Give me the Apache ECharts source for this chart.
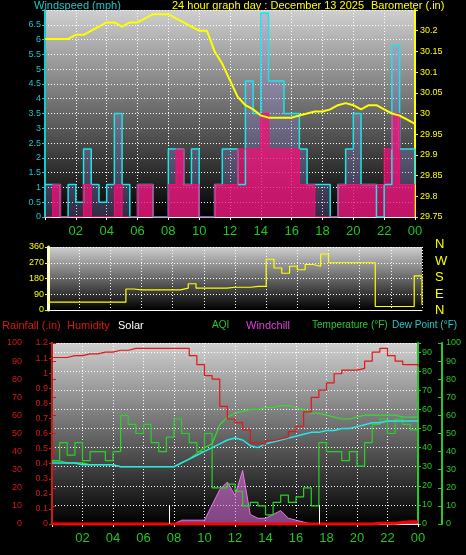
<!DOCTYPE html>
<html>
<head>
<meta charset="utf-8">
<script src="https://cdn.jsdelivr.net/npm/echarts@6/dist/echarts.min.js"></script>
<style>
html, body {margin: 0; padding: 0; background: #000;}
#chart {width: 466px; height: 555px;}
</style>
</head>
<body>
<div id="chart"></div>
<script>
// half hour steps, 0..24
const hours = [];
for (let i = 0; i <= 48; i++) hours.push(i / 2);

const barometer = [30.18, 30.18, 30.18, 30.18, 30.19, 30.19, 30.2, 30.21, 30.22, 30.22, 30.21, 30.22, 30.22, 30.23, 30.24, 30.24, 30.24, 30.23, 30.22, 30.21, 30.2, 30.2, 30.15, 30.12, 30.08, 30.04, 30.02, 30.01, 29.995, 29.99, 29.99, 29.99, 29.99, 29.995, 30.0, 30.005, 30.005, 30.01, 30.02, 30.025, 30.02, 30.01, 30.02, 30.02, 30.01, 30.0, 29.995, 29.985, 29.975];
const windGust = [1.1, 1.1, 0, 1.1, 0.5, 2.3, 1.1, 0.5, 1.1, 3.5, 1.1, 0, 1.1, 1.1, 0, 0, 2.3, 2.3, 1.1, 2.3, 0, 0, 1.1, 2.3, 2.3, 1.1, 4.6, 3.5, 6.9, 4.6, 4.6, 3.5, 3.5, 2.3, 1.1, 1.1, 1.1, 0, 1.1, 2.3, 3.5, 1.1, 1.1, 0, 1.1, 5.8, 2.3, 2.3, 1.1];
const windAvg = [0, 1.1, 0, 0, 0, 1.1, 0, 0, 0, 1.1, 0, 0, 1.1, 1.1, 0, 0, 1.1, 2.3, 1.1, 1.1, 0, 0, 1.1, 1.1, 1.1, 2.3, 2.3, 2.3, 3.5, 2.3, 2.3, 2.3, 2.3, 1.1, 1.1, 0, 0, 0, 1.1, 1.1, 1.1, 1.1, 1.1, 1.1, 2.3, 3.5, 1.1, 1.1, 1.1];
const windDir = [45, 45, 45, 45, 45, 45, 45, 45, 45, 45, 120, 115, 115, 115, 115, 115, 115, 125, 150, 125, 125, 125, 125, 130, 130, 130, 135, 135, 290, 240, 210, 250, 230, 260, 250, 320, 270, 270, 270, 270, 270, 270, 20, 20, 20, 20, 20, 195, 30];
const humidity = [92, 92, 93, 93, 94, 94, 95, 95, 96, 96, 97, 97, 97, 97, 97, 97, 97, 97, 93, 88, 82, 80, 65, 58, 56, 52, 45, 44, 46, 47, 48, 51, 54, 62, 70, 74, 78, 83, 85, 85, 86, 90, 95, 97, 93, 90, 88, 88, 87];
const temperature = [33, 33, 32, 32, 32, 31, 31, 31, 31, 30, 30, 30, 30, 30, 30, 30, 30, 32, 34, 37, 40, 42, 52, 56, 58, 59, 60, 60, 61, 61, 62, 62, 61, 60, 58, 58, 57, 56, 55, 55, 56, 57, 57, 57, 57, 57, 56, 56, 56];
const dewPoint = [32, 32, 32, 32, 31, 31, 31, 31, 31, 30, 30, 30, 30, 30, 30, 30, 30, 32, 34, 36, 38, 40, 42, 44, 45, 44, 41, 40, 42, 43, 44, 45, 46, 47, 48, 48, 49, 49, 50, 50, 51, 52, 53, 53, 54, 54, 54, 54, 54];
const aqi = [35, 45, 38, 45, 35, 40, 40, 35, 40, 60, 55, 50, 55, 45, 40, 48, 58, 50, 45, 40, 50, 20, 20, 22, 18, 10, 12, 10, 5, 12, 16, 12, 15, 20, 10, 45, 40, 40, 35, 40, 32, 45, 55, 58, 50, 58, 55, 52, 54];
const solar = [0, 0, 0, 0, 0, 0, 0, 0, 0, 0, 0, 0, 0, 0, 0, 0, 0, 2, 2, 2, 2, 10, 18, 22, 15, 28, 5, 3, 3, 5, 7, 3, 2, 1, 0, 0, 0, 0, 0, 0, 0, 0, 0, 0, 0, 0, 0, 0, 0];
const rainfall = [0, 0, 0, 0, 0, 0, 0, 0, 0, 0, 0, 0, 0, 0, 0, 0, 0, 0, 0, 0, 0, 0, 0, 0, 0, 0, 0, 0, 0, 0, 0, 0, 0, 0, 0, 0, 0, 0, 0, 0, 0, 0, 0.005, 0.005, 0.005, 0.01, 0.015, 0.015, 0.015];
const sunRise = 7.7;
const sunSet = 17.5;
const compass = ['N', 'W', 'S', 'E', 'N'];

const pairs = arr => hours.map((h, i) => [h, arr[i]]);

const bg = new echarts.graphic.LinearGradient(0, 0, 0, 1, [
    {offset: 0, color: '#cfcfcf'},
    {offset: 1, color: '#000000'}
]);
const split = {show: true, lineStyle: {color: '#fff', type: [1, 2], width: 1}};
const hourLabel = v => v === 0 ? '' : String(v % 24).padStart(2, '0');

const xBase = (idx, showLabel) => ({
    type: 'value', gridIndex: idx, min: 0, max: 24, interval: 2,
    axisLine: {show: true, lineStyle: {color: '#fff'}},
    axisTick: {show: showLabel, length: 3, lineStyle: {color: '#fff'}},
    axisLabel: {show: showLabel, color: '#1ec81e', fontSize: 13, formatter: hourLabel, margin: 8},
    splitLine: split
});

const yAxis = (idx, o) => Object.assign({
    type: 'value', gridIndex: idx,
    axisLine: {show: true, lineStyle: {color: o.color, width: 2}},
    axisTick: {show: true, length: 3, lineStyle: {color: o.color}},
    axisLabel: {color: o.color, fontSize: 9, margin: 4},
    splitLine: {show: false}
}, o.extra);

const chart = echarts.init(document.getElementById('chart'));
chart.setOption({
    backgroundColor: '#000',
    animation: false,
    textStyle: {fontFamily: 'Liberation Sans'},
    graphic: [
        {type: 'text', left: 34, top: 0, style: {text: 'Windspeed (mph)', fill: '#19c8c8', fontSize: 11}},
        {type: 'text', left: 172, top: 0, style: {text: '24 hour graph day : December 13 2025', fill: '#ffff00', fontSize: 11}},
        {type: 'text', left: 371, top: 0, style: {text: 'Barometer (.in)', fill: '#ffff00', fontSize: 11}},
        {type: 'text', left: 2, top: 320, style: {text: 'Rainfall (.in)', fill: '#d21919', fontSize: 11}},
        {type: 'text', left: 67, top: 320, style: {text: 'Humidity', fill: '#d21919', fontSize: 11}},
        {type: 'text', left: 118, top: 320, style: {text: 'Solar', fill: '#fff', fontSize: 11}},
        {type: 'text', left: 212, top: 320, style: {text: 'AQI', fill: '#28c828', fontSize: 10}},
        {type: 'text', left: 246, top: 320, style: {text: 'Windchill', fill: '#e040e0', fontSize: 11}},
        {type: 'text', left: 312, top: 320, style: {text: 'Temperature (°F)', fill: '#28c828', fontSize: 10}},
        {type: 'text', left: 392, top: 320, style: {text: 'Dew Point (°F)', fill: '#28c8c8', fontSize: 10}},
        ...compass.map((c, i) => ({type: 'text', left: 435, top: 238 + i * 16.5, style: {text: c, fill: '#ffff00', fontSize: 13}}))
    ],
    grid: [
        {left: 45, right: 51, top: 10, bottom: 338, show: true, backgroundColor: bg, borderWidth: 0},
        {left: 48, right: 44, top: 247, bottom: 245, show: true, backgroundColor: bg, borderWidth: 0},
        {left: 52, right: 48, top: 343, bottom: 31, show: true, backgroundColor: bg, borderWidth: 0}
    ],
    xAxis: [xBase(0, true), xBase(1, false), xBase(2, true)],
    yAxis: [
        yAxis(0, {color: '#19c8c8', extra: {position: 'left', min: 0, max: 7, interval: 0.5, splitLine: split,
            axisLabel: {color: '#19c8c8', fontSize: 9, margin: 4, formatter: v => v === 7 ? '' : v}}}),
        yAxis(0, {color: '#ffff00', extra: {position: 'right', min: 29.75, max: 30.25, interval: 0.05,
            axisLabel: {color: '#ffff00', fontSize: 9, margin: 5, formatter: v => v >= 30.25 ? '' : +v.toFixed(2)}}}),
        yAxis(1, {color: '#ffff00', extra: {position: 'left', min: 0, max: 360, interval: 90, splitLine: split,
            axisLine: {show: true, lineStyle: {color: '#ffffc8', width: 3}}}}),
        yAxis(2, {color: '#d21919', extra: {position: 'left', min: 0, max: 100, interval: 10, offset: 26,
            axisTick: {show: true, length: 4, inside: true, lineStyle: {color: '#d21919'}}}}),
        yAxis(2, {color: '#d21919', extra: {position: 'left', min: 0, max: 1.2, interval: 0.1,
            axisLabel: {color: '#d21919', fontSize: 9, margin: 4, formatter: v => +v.toFixed(1)}}}),
        yAxis(2, {color: '#28c828', extra: {position: 'right', min: 0, max: 94.8, interval: 10, splitLine: split,
            axisLabel: {color: '#28c828', fontSize: 9, margin: 4, formatter: v => v > 94 ? '' : v}}}),
        yAxis(2, {color: '#28c828', extra: {position: 'right', min: 0, max: 100, interval: 10, offset: 24,
            axisTick: {show: true, length: 4, inside: true, lineStyle: {color: '#28c828'}}}})
    ],
    series: [
        {type: 'line', xAxisIndex: 0, yAxisIndex: 0, data: pairs(windGust), step: 'end', symbol: 'none',
            lineStyle: {color: '#19e6e6', width: 1.5}, areaStyle: {color: 'rgba(150,140,220,0.45)'}},
        {type: 'line', xAxisIndex: 0, yAxisIndex: 0, data: pairs(windAvg), step: 'end', symbol: 'none',
            lineStyle: {color: '#ff0a78', width: 1}, areaStyle: {color: '#ff0a78'}},
        {type: 'line', xAxisIndex: 0, yAxisIndex: 1, data: pairs(barometer), symbol: 'none',
            lineStyle: {color: '#ffff00', width: 2}},
        {type: 'line', xAxisIndex: 1, yAxisIndex: 2, data: pairs(windDir), step: 'end', symbol: 'none',
            lineStyle: {color: '#ffff00', width: 1.2}},
        {type: 'line', xAxisIndex: 2, yAxisIndex: 5, data: pairs(solar), symbol: 'none',
            lineStyle: {color: '#e678e6', width: 1}, areaStyle: {color: 'rgba(230,120,230,0.8)'},
            markLine: {symbol: 'none', silent: true, lineStyle: {color: '#fff', type: 'solid', width: 1},
                label: {show: true, position: 'end', color: '#ddd', fontSize: 9, formatter: p => p.value === sunSet ? 'Sun Set' : ''},
                data: [[{coord: [sunRise, 0]}, {coord: [sunRise, 10]}], [{coord: [sunSet, 0]}, {coord: [sunSet, 10]}]]}},
        {type: 'line', xAxisIndex: 2, yAxisIndex: 6, data: pairs(aqi), step: 'end', symbol: 'none',
            lineStyle: {color: '#28d228', width: 1.2}},
        {type: 'line', xAxisIndex: 2, yAxisIndex: 5, data: pairs(temperature), symbol: 'none',
            lineStyle: {color: '#32dc32', width: 1.2}},
        {type: 'line', xAxisIndex: 2, yAxisIndex: 5, data: pairs(dewPoint), symbol: 'none',
            lineStyle: {color: '#28e6e6', width: 1.5}},
        {type: 'line', xAxisIndex: 2, yAxisIndex: 3, data: pairs(humidity), step: 'end', symbol: 'none',
            lineStyle: {color: '#e61414', width: 1.2}},
        {type: 'line', xAxisIndex: 2, yAxisIndex: 4, data: pairs(rainfall), step: 'end', symbol: 'none',
            lineStyle: {color: '#ff0000', width: 3}}
    ]
});
</script>
</body>
</html>
